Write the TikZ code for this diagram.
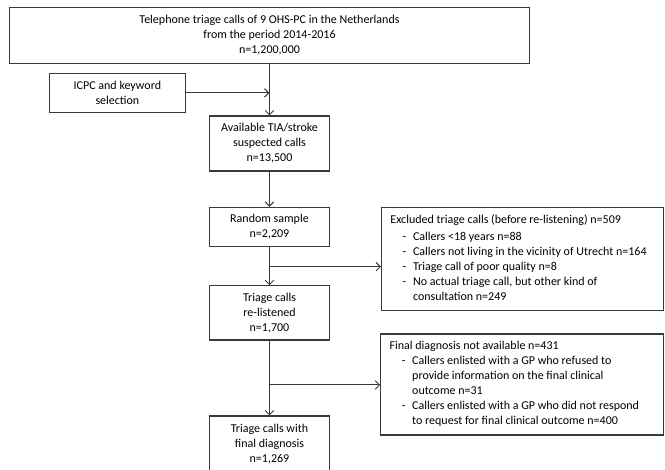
\documentclass[tikz,border=0pt]{standalone}
\usepackage{fontspec}
\setmainfont{Carlito}
\usetikzlibrary{arrows.meta,calc}
\definecolor{linec}{HTML}{3A3A3A}
\newenvironment{itemtab}{\begin{tabular}{@{}p{9.2pt}@{}p{7.75pt}@{}l@{}}}{\end{tabular}}
\newcommand\hdr[1]{\multicolumn{3}{@{}l@{}}{#1}}
\begin{document}
\begin{tikzpicture}[x=0.75pt,y=-0.75pt,
  box/.style={draw=linec, line width=0.8pt, inner sep=0pt, align=center,
    font=\fontsize{9}{11.25}\selectfont, text=black},
  listtext/.style={inner sep=0pt, anchor=west,
    font=\fontsize{9}{11.25}\selectfont, text=black},
  conn/.style={draw=linec, line width=0.75pt},
  arr/.style={conn, -{Straight Barb[length=3.2pt,width=6.4pt]}}]
\useasboundingbox (0,0) rectangle (665,470);
\node[box, minimum width=390.5pt, minimum height=42pt] (top) at (269.5,35.3)
  {Telephone triage calls of 9 OHS-PC in the Netherlands\\from the period 2014-2016\\n=1,200,000};
\node[box, minimum width=102.15pt, minimum height=29.4pt] (icpc) at (117.4,92.9)
  {ICPC and keyword\\selection};
\node[box, minimum width=90.3pt, minimum height=41.25pt] (avail) at (269.5,143.5)
  {Available TIA/stroke\\suspected calls\\n=13,500};
\node[box, minimum width=90.3pt, minimum height=29.55pt] (rand) at (269.5,227)
  {Random sample\\n=2,209};
\node[box, minimum width=90.3pt, minimum height=40.7pt] (relist) at (269.5,312.85)
  {Triage calls\\re-listened\\n=1,700};
\node[box, minimum width=90.3pt, minimum height=42pt] (final) at (269.5,444)
  {Triage calls with\\final diagnosis\\n=1,269};
\node[box, minimum width=211.5pt, minimum height=77.55pt] (excl) at (522.5,259) {};
\node[box, minimum width=212.1pt, minimum height=75.75pt] (nfd) at (522.1,384.5) {};
\node[listtext] (excltext) at ($(excl.west)+(9.2,0)$)
  {\begin{itemtab}
   \hdr{Excluded triage calls (before re-listening) n=509}\\[1.5pt]
   & - & Callers <18 years n=88\\
   & - & Callers not living in the vicinity of Utrecht n=164\\
   & - & Triage call of poor quality n=8\\
   & - & No actual triage call, but other kind of\\
   &   & consultation n=249
   \end{itemtab}};
\node[listtext] (nfdtext) at ($(nfd.west)+(9.2,0)$)
  {\begin{itemtab}
   \hdr{Final diagnosis not available n=431}\\
   & - & Callers enlisted with a GP who refused to\\
   &   & provide information on the final clinical\\
   &   & outcome n=31\\
   & - & Callers enlisted with a GP who did not respond\\
   &   & to request for final clinical outcome n=400
   \end{itemtab}};
\coordinate (b1) at (269.5,266.7);
\coordinate (b2) at (269.5,385);
\draw[arr] (top.south) -- (avail.north);
\draw[arr] (icpc.east) -- (icpc.east -| top.south);
\draw[arr] (avail.south) -- (rand.north);
\draw[arr] (rand.south) -- (relist.north);
\draw[arr] (relist.south) -- (final.north);
\draw[arr] (b1) -- (b1 -| excl.west);
\draw[arr] (b2) -- (b2 -| nfd.west);
\end{tikzpicture}
\end{document}
